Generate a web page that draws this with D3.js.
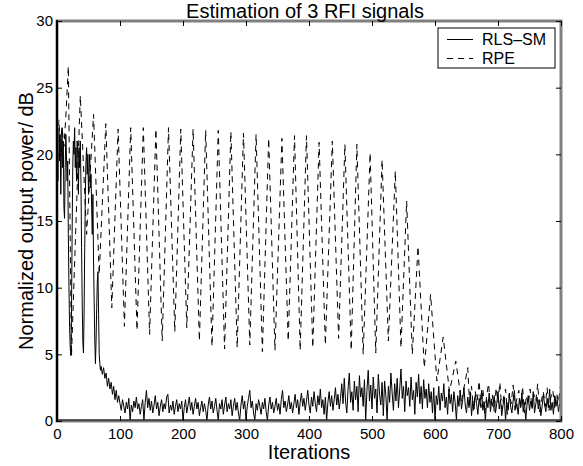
<!DOCTYPE html>
<html>
<head>
<meta charset="utf-8">
<script src="https://cdn.jsdelivr.net/npm/d3@7"></script>
<style>
  body { margin: 0; background: #fff; }
  svg { display: block; }
  text { font-family: "Liberation Sans", Arial, Helvetica, sans-serif; fill: #000; }
</style>
</head>
<body>
<div id="chart"></div>
<script>
// ---- data ----
var xTicks = [0, 100, 200, 300, 400, 500, 600, 700, 800];
var yTicks = [0, 5, 10, 15, 20, 25, 30];
var seriesNames = ["RLS\u2013SM", "RPE"];

// RLS-SM, one value per iteration for the first 70 iterations
var rlsEarly = [27, 21, 18, 22, 19.5, 21.5, 17, 20, 22, 19,
  21, 16, 15.2, 19, 21.5, 20, 18, 19.5, 14, 10,
  7, 5.5, 4.9, 8, 14, 19, 21, 20, 22, 19,
  20.5, 18, 21, 20, 17, 20.5, 19, 21, 18, 13,
  9, 6, 5.1, 8, 13, 17, 19.5, 20.5, 18.5, 20,
  17, 19, 20, 17.5, 18.5, 16, 14, 17, 12, 9,
  6, 4.3, 6, 8.5, 10.5, 11.2, 8, 5, 4.3, 3.8];

// RLS-SM from iteration 70 to 800, every 2 iterations
var rlsLate = [4.1, 3.5, 4.0, 3.2, 3.6, 2.6, 3.2, 2.4, 2.9, 2.0,
  2.6, 1.6, 2.3, 1.4, 1.9,
  1.3, 0.8, 1.6, 1.1, 0.6, 1.4, 0.9, 1.7, 0.05, 1.2,
  0.7, 1.5, 1.0, 1.8, 0.9, 1.3, 0.5, 1.1, 1.6, 0.05,
  1.4, 2.3, 1.0, 1.7, 0.8, 1.5, 0.6, 1.2, 1.9, 0.9,
  1.4, 0.4, 1.1, 1.6, 0.7, 1.3, 0.9, 1.8, 2.0, 0.6,
  1.2, 0.8, 1.5, 0.5, 1.1, 1.6, 0.7, 1.3, 0.9, 1.5,
  0.05, 1.0, 1.6, 0.6, 1.2, 1.8, 0.8, 1.4, 0.5, 1.1,
  1.7, 0.9, 1.4, 0.4, 1.0, 1.5, 0.7, 1.3, 0.8, 0.05,
  1.2, 1.8, 0.9, 1.5, 0.6, 1.1, 1.7, 0.8, 0.05, 1.3,
  0.9, 1.6, 0.5, 1.2, 1.8, 0.7, 1.3, 0.9, 1.6, 0.4,
  1.1, 1.7, 0.8, 1.4, 0.6, 0.05, 1.2, 1.9, 0.9, 1.5,
  0.05, 1.1, 1.7, 2.3, 1.0, 1.5, 0.6, 0.05, 1.3, 0.8,
  1.6, 1.1, 0.5, 1.4, 0.9, 1.7, 0.7, 0.05, 1.2, 1.8,
  0.9, 1.4, 0.6, 1.1, 1.7, 0.8, 1.3, 0.5, 1.6, 2.3,
  1.0, 1.5, 0.7, 1.2, 1.9, 0.9, 1.4, 0.6, 1.3, 2.0,
  1.0, 1.6, 0.5, 1.4, 2.1, 1.1, 1.7, 0.8, 1.5, 2.3,
  1.2, 0.6, 1.8, 1.1, 2.2, 1.3, 0.7, 1.9, 1.2, 2.4,
  1.0, 1.6, 0.5, 1.8, 0.05, 1.4, 2.2, 1.1, 1.9, 0.8,
  1.6, 2.5, 1.2, 2.0, 0.9, 1.7, 2.8, 1.3, 3.2, 1.5,
  0.6, 2.4, 3.6, 1.4, 2.2, 0.8, 3.0, 1.6, 2.6, 0.7,
  3.4, 1.8, 2.5, 1.1, 3.1, 0.05, 2.3, 3.8, 1.5, 2.7,
  0.9, 3.3, 1.7, 2.4, 0.6, 3.5, 2.0, 1.2, 2.9, 0.4,
  3.0, 1.9, 0.05, 2.6, 1.4, 3.6, 2.1, 0.8, 2.8, 1.5,
  3.2, 1.0, 2.4, 3.9, 1.7, 2.6, 0.7, 3.0, 1.9, 2.5,
  1.1, 3.3, 1.6, 2.3, 0.5, 2.9, 1.8, 3.5, 1.3, 2.6,
  0.9, 3.1, 1.7, 2.4, 1.0, 2.8, 1.4, 2.2, 0.6, 2.5,
  0.05, 1.9, 1.2, 2.6, 0.8, 2.1, 1.5, 2.8, 1.0, 1.8,
  0.5, 2.4, 1.3, 2.0, 0.7, 2.2, 1.4, 0.05, 1.9, 1.1,
  2.3, 0.9, 1.6, 2.5, 1.2, 0.6, 1.8, 1.0, 2.2, 0.4,
  1.5, 0.9, 2.0, 1.3, 0.5, 1.7, 1.1, 2.3, 0.8, 1.4,
  0.05, 1.6, 1.0, 2.1, 0.7, 1.5, 1.1, 1.9, 0.6, 1.3,
  2.2, 0.9, 1.6, 0.4, 1.2, 1.8, 0.05, 1.4, 0.8, 2.0,
  1.1, 0.6, 1.5, 2.3, 0.9, 1.3, 0.5, 1.7, 1.0, 2.1,
  0.7, 1.4, 0.05, 1.2, 1.9, 0.8, 1.5, 1.0, 2.2, 0.6,
  1.3, 1.8, 0.9, 1.6, 0.4, 1.1, 2.0, 1.2, 0.7, 1.7,
  1.0, 2.4, 0.8, 1.4, 0.5, 1.9, 1.1, 1.6, 0.7, 1.3,
  2.6];

// RPE: turning points of the oscillation, then the settled tail
var rpeIter = [0, 3, 5, 8, 11, 14, 18, 23, 37, 47,
  58, 67, 77.5, 87, 97, 107, 117, 127, 137, 147,
  157, 167, 177, 187, 196.5, 206, 216, 226, 236, 246,
  256, 266, 276, 286, 296, 306, 316, 326, 336, 346,
  357, 367, 377, 386, 396, 406, 416, 426, 437, 447,
  457, 467, 476, 486, 497, 506, 516, 526, 537, 546,
  555, 564, 573, 583, 593, 603, 613, 623, 633, 642,
  652, 655, 658, 661, 664, 667, 670, 673, 676, 679,
  682, 685, 688, 691, 694, 697, 700, 703, 706, 709,
  712, 715, 718, 721, 724, 727, 730, 733, 736, 739,
  742, 745, 748, 751, 754, 757, 760, 763, 766, 769,
  772, 775, 778, 781, 784, 787, 790, 793, 796, 799];
var rpeVal = [20.5, 22.6, 20.2, 22.0, 20.6, 22.8, 26.6, 4.9, 24.4, 14.0,
  23.0, 11.0, 22.3, 8.5, 21.9, 7.1, 22.0, 6.8, 22.0, 6.5,
  21.9, 6.0, 22.0, 6.7, 21.9, 7.0, 21.9, 6.0, 21.8, 5.6,
  21.8, 5.4, 21.7, 5.5, 21.6, 5.7, 21.5, 5.2, 21.2, 5.3,
  21.2, 6.0, 21.4, 5.3, 21.4, 5.5, 20.9, 5.7, 21.0, 6.2,
  20.75, 5.3, 20.75, 5.0, 20.1, 5.1, 19.6, 6.0, 18.75, 5.5,
  16.5, 5.0, 13.1, 4.0, 9.5, 3.0, 6.3, 2.2, 4.5, 1.5,
  4.0, 1.2, 2.6, 0.8, 2.2, 1.5, 3.0, 1.0, 2.4, 0.6,
  1.9, 2.8, 1.1, 2.0, 0.7, 2.5, 1.4, 2.9, 0.9, 1.8,
  2.4, 0.5, 2.1, 1.3, 2.7, 0.8, 1.7, 2.3, 1.0, 2.6,
  0.6, 1.9, 1.2, 2.4, 0.9, 2.0, 1.5, 2.8, 0.7, 1.6,
  2.2, 1.1, 2.5, 0.8, 1.8, 2.3, 1.0, 2.1, 1.4, 2.6];

// ---- drawing ----
var W = 583, H = 466;
var x = d3.scaleLinear().domain([0, 800]).range([57, 561]);
var y = d3.scaleLinear().domain([0, 30]).range([421, 21]);

var svg = d3.select("#chart").append("svg")
  .attr("width", W).attr("height", H);
svg.append("rect").attr("width", W).attr("height", H).attr("fill", "#fff");

svg.append("clipPath").attr("id", "plotClip")
  .append("rect")
  .attr("x", x(0)).attr("y", y(30))
  .attr("width", x(800) - x(0)).attr("height", y(0) - y(30));

var rlsData = rlsEarly.map(function (v, i) { return [i, v]; })
  .concat(rlsLate.map(function (v, i) { return [70 + 2 * i, v]; }));
var rpeData = rpeIter.map(function (it, i) { return [it, rpeVal[i]]; });

var line = d3.line()
  .x(function (d) { return x(d[0]); })
  .y(function (d) { return y(d[1]); });

var plot = svg.append("g").attr("clip-path", "url(#plotClip)");
plot.append("path")
  .datum(rpeData)
  .attr("d", line)
  .attr("fill", "none")
  .attr("stroke", "#000")
  .attr("stroke-width", 1)
  .attr("stroke-dasharray", "6,5");
plot.append("path")
  .datum(rlsData)
  .attr("d", line)
  .attr("fill", "none")
  .attr("stroke", "#000")
  .attr("stroke-width", 1);

// box: gray top / right / bottom, black left and bottom axis lines
svg.append("rect")
  .attr("x", x(0)).attr("y", y(30))
  .attr("width", x(800) - x(0)).attr("height", y(0) - y(30))
  .attr("fill", "none")
  .attr("stroke", "#808080")
  .attr("stroke-width", 3);
svg.append("line")
  .attr("x1", x(0)).attr("x2", x(0)).attr("y1", y(30) - 1).attr("y2", y(0) + 1)
  .attr("stroke", "#000").attr("stroke-width", 2);
svg.append("line")
  .attr("x1", x(0)).attr("x2", x(800)).attr("y1", y(0) - 1).attr("y2", y(0) - 1)
  .attr("stroke", "#000").attr("stroke-width", 1);

function styleAxis(g, size) {
  g.select(".domain").remove();
  g.selectAll(".tick line").attr("stroke", "#000");
  g.selectAll("text")
    .style("font-family", "'Liberation Sans', Arial, Helvetica, sans-serif")
    .style("font-size", size + "px")
    .attr("fill", "#000");
}

svg.append("g")
  .attr("transform", "translate(0," + y(0) + ")")
  .call(d3.axisBottom(x).tickValues(xTicks).tickSize(-5).tickSizeOuter(0).tickPadding(7))
  .call(styleAxis, 15);
svg.append("g")
  .attr("transform", "translate(0," + y(30) + ")")
  .call(d3.axisTop(x).tickValues(xTicks).tickSize(-5).tickSizeOuter(0).tickFormat(""))
  .call(styleAxis, 15);
svg.append("g")
  .attr("transform", "translate(" + x(0) + ",0)")
  .call(d3.axisLeft(y).tickValues(yTicks).tickSize(-5).tickSizeOuter(0).tickPadding(4))
  .call(styleAxis, 15);
svg.append("g")
  .attr("transform", "translate(" + x(800) + ",0)")
  .call(d3.axisRight(y).tickValues(yTicks).tickSize(-5).tickSizeOuter(0).tickFormat(""))
  .call(styleAxis, 15);

// title and axis labels
svg.append("text")
  .attr("x", 305).attr("y", 18)
  .attr("text-anchor", "middle")
  .style("font-size", "20px")
  .text("Estimation of 3 RFI signals");
svg.append("text")
  .attr("x", (x(0) + x(800)) / 2).attr("y", 459)
  .attr("text-anchor", "middle")
  .style("font-size", "20px")
  .text("Iterations");
svg.append("text")
  .attr("transform", "translate(33," + (y(0) + y(30)) / 2 + ") rotate(-90)")
  .attr("text-anchor", "middle")
  .style("font-size", "20px")
  .text("Normalized output power/ dB");

// legend
var legend = svg.append("g").attr("transform", "translate(438,28)");
legend.append("rect")
  .attr("width", 117).attr("height", 40)
  .attr("fill", "#fff").attr("stroke", "#000").attr("stroke-width", 1);
var dashes = [null, "6,5"];
seriesNames.forEach(function (name, i) {
  var yy = 11.5 + i * 19;
  legend.append("line")
    .attr("x1", 9).attr("x2", 35).attr("y1", yy).attr("y2", yy)
    .attr("stroke", "#000").attr("stroke-width", 1)
    .attr("stroke-dasharray", dashes[i]);
  legend.append("text")
    .attr("x", 44).attr("y", yy + 5.5)
    .style("font-size", "16px")
    .text(name);
});
</script>
</body>
</html>
